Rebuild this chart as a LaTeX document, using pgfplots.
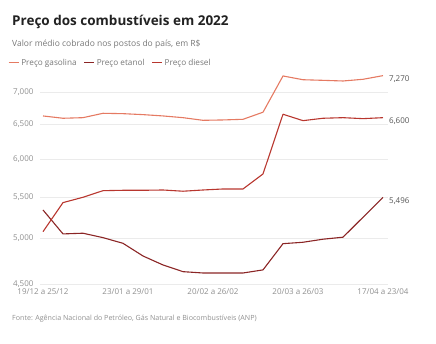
\documentclass[border=0pt]{standalone}
\usepackage{fontspec}
\setmainfont{Open Sans}
\usepackage{pgfplots}
\pgfplotsset{compat=1.18}
\definecolor{gas}{HTML}{E57A62}
\definecolor{eta}{HTML}{8B2525}
\definecolor{die}{HTML}{B8362E}
\definecolor{titlec}{HTML}{222222}
\definecolor{subc}{HTML}{777777}
\definecolor{tickc}{HTML}{8F8F8F}
\definecolor{gridc}{HTML}{EBEBEB}
\definecolor{valc}{HTML}{555555}
\begin{document}
\begin{tikzpicture}
\useasboundingbox (0pt,0pt) rectangle (436pt,344pt);
\node[anchor=base west, inner sep=0pt, text=titlec, font=\fontsize{13.5}{15}\selectfont\bfseries] at (12pt,318pt) {Preço dos combustíveis em 2022};
\node[anchor=base west, inner sep=0pt, text=subc, font=\fontsize{8.5}{10}\selectfont] at (12pt,297.5pt) {Valor médio cobrado nos postos do país, em R\$};
\node[anchor=base west, inner sep=0pt, text=tickc, font=\fontsize{7.1}{8}\selectfont] at (12pt,23pt) {Fonte: Agência Nacional do Petróleo, Gás Natural e Biocombustíveis (ANP)};
\begin{axis}[
  at={(40pt,59.7pt)}, anchor=south west,
  scale only axis, width=348pt, height=210.4pt,
  xmin=-0.15, xmax=17.25,
  ymode=log, ymin=4500, ymax=7300,
  axis line style={draw=none},
  tick style={draw=none},
  major tick length=0pt,
  ytick={4500,5000,5500,6000,6500,7000},
  yticklabels={{4,500},{5,000},{5,500},{6,000},{6,500},{7,000}},
  xtick={0,4.25,8.5,12.75,17},
  xticklabels={{19/12 a 25/12},{23/01 a 29/01},{20/02 a 26/02},{20/03 a 26/03},{17/04 a 23/04}},
  ymajorgrids, grid style={gridc, line width=0.6pt},
  yticklabel style={text=tickc, font=\fontsize{8}{9}\selectfont, xshift=-3pt},
  xticklabel style={text=tickc, font=\fontsize{8}{9}\selectfont, yshift=-1pt},
  clip=false,
  legend columns=3,
  legend style={at={(0,1)}, anchor=south west, xshift=-32pt, yshift=5pt, draw=none, fill=none,
    font=\fontsize{8.2}{9}\selectfont, text=subc, inner sep=0pt,
    /tikz/every even column/.append style={column sep=5pt}},
  legend image code/.code={\draw[#1, line width=1.1pt] (0pt,0pt) -- (10pt,0pt);},
  every axis plot/.append style={line width=1.1pt, line join=round},
]
\addplot[gas, mark=none] coordinates {
(0,6626) (1,6591) (2,6600) (3,6667) (4,6661) (5,6646) (6,6626) (7,6600) (8,6560)
(9,6565) (10,6575) (11,6683) (12,7264) (13,7202) (14,7192) (15,7181) (16,7209) (17,7270)};
\addlegendentry{Preço gasolina}
\addplot[eta, mark=none] coordinates {
(0,5338) (1,5052) (2,5060) (3,5009) (4,4944) (5,4802) (6,4704) (7,4632) (8,4618)
(9,4618) (10,4618) (11,4651) (12,4940) (13,4956) (14,4991) (15,5014) (16,5249) (17,5496)};
\addlegendentry{Preço etanol}
\addplot[die, mark=none] coordinates {
(0,5078) (1,5429) (2,5496) (3,5580) (4,5585) (5,5585) (6,5589) (7,5573) (8,5589)
(9,5602) (10,5602) (11,5799) (12,6652) (13,6555) (14,6591) (15,6600) (16,6585) (17,6600)};
\addlegendentry{Preço diesel}
\node[anchor=west, text=valc, font=\fontsize{8}{9}\selectfont, inner sep=0pt, xshift=6pt, yshift=-3.5pt] at (axis cs:17,7270) {7,270};
\node[anchor=west, text=valc, font=\fontsize{8}{9}\selectfont, inner sep=0pt, xshift=6pt, yshift=-3.5pt] at (axis cs:17,6600) {6,600};
\node[anchor=west, text=valc, font=\fontsize{8}{9}\selectfont, inner sep=0pt, xshift=6pt, yshift=-3.5pt] at (axis cs:17,5496) {5,496};
\end{axis}
\end{tikzpicture}
\end{document}
